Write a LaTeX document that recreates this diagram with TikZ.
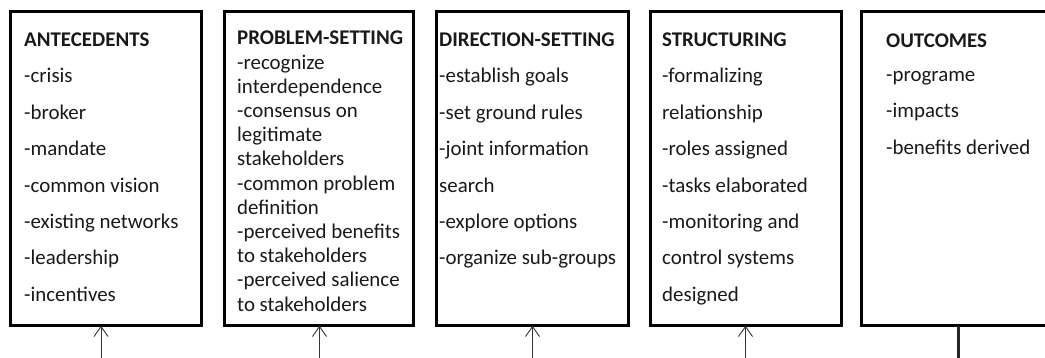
\documentclass[tikz,border=0pt]{standalone}
\usepackage{fontspec}
\setmainfont{Carlito}
\usetikzlibrary{arrows.meta}
\begin{document}
\begin{tikzpicture}[x=1pt,y=-1pt,
  box/.style={draw=black,line width=3pt,minimum height=314.5pt,inner sep=0pt,outer sep=0pt},
  txt/.style={anchor=north west,align=left,inner sep=0pt,text=black!90,
    font=\fontsize{20.9}{36.4}\selectfont},
  txttight/.style={txt,font=\fontsize{20.9}{24.2}\selectfont},
  arr/.style={draw=black!80,line width=0.9pt,-{Straight Barb[length=10pt,width=14pt,line width=0.9pt]}},
  stem/.style={draw=black!85,line width=2.6pt}]
\useasboundingbox (0,0) rectangle (1045,358);
\clip (0,0) rectangle (1045,358);
\node[box,minimum width=191pt] (b1) at (106,168.5) {};
\node[box,minimum width=189pt] (b2) at (318.5,168.5) {};
\node[box,minimum width=192pt] (b3) at (532.5,168.5) {};
\node[box,minimum width=191pt] (b4) at (745.5,168.5) {};
\node[box,minimum width=200pt] (b5) at (961.5,168.5) {};
\node[txt] (t1) at (24,32.5) {\textbf{ANTECEDENTS}\\-crisis\\-broker\\-mandate\\-common vision\\-existing networks\\-leadership\\-incentives};
\node[txttight] (t2) at (237,31) {\textbf{PROBLEM-SETTING}\\-recognize\\interdependence\\-consensus on\\legitimate\\stakeholders\\-common problem\\definition\\-perceived benefits\\to stakeholders\\-perceived salience\\to stakeholders};
\node[txt] (t3) at (439,32.5) {\textbf{DIRECTION-SETTING}\\-establish goals\\-set ground rules\\-joint information\\search\\-explore options\\-organize sub-groups};
\node[txt] (t4) at (662,32.5) {\textbf{STRUCTURING}\\-formalizing\\relationship\\-roles assigned\\-tasks elaborated\\-monitoring and\\control systems\\designed};
\node[txt] (t5) at (886,33.5) {\textbf{OUTCOMES}\\[-2.5pt]-programe\\-impacts\\-benefits derived};
\coordinate (a1) at (101,362);
\coordinate (a2) at (319.5,362);
\coordinate (a3) at (532.5,362);
\coordinate (a4) at (745.5,362);
\coordinate (a5) at (958.5,362);
\draw[arr] (a1) -- (a1 |- b1.south);
\draw[arr] (a2) -- (a2 |- b2.south);
\draw[arr] (a3) -- (a3 |- b3.south);
\draw[arr] (a4) -- (a4 |- b4.south);
\draw[stem] (a5) -- (a5 |- b5.south);
\end{tikzpicture}
\end{document}
